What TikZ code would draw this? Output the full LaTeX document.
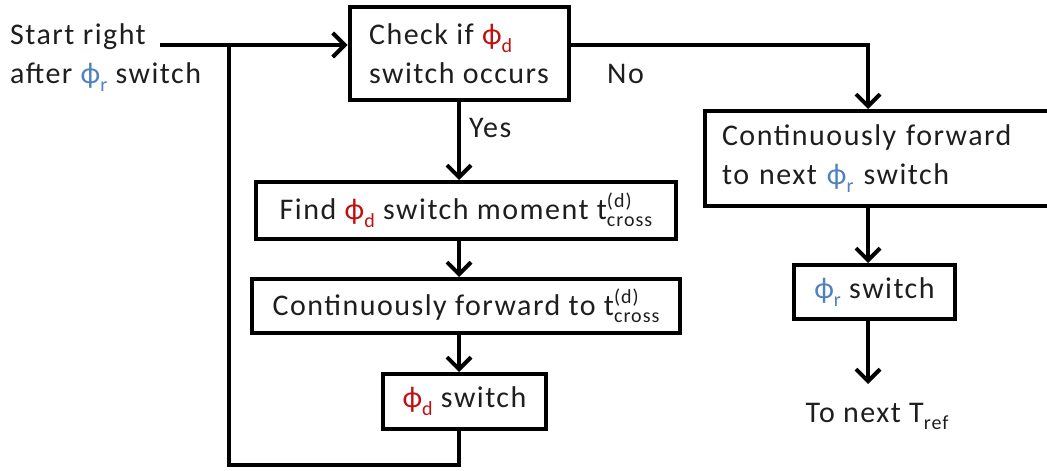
\documentclass[tikz,border=0pt]{standalone}
\usepackage{fontspec}
\setmainfont{Carlito}[LetterSpace=5]
\usetikzlibrary{arrows.meta}
\definecolor{phired}{RGB}{192,16,16}
\definecolor{phiblue}{RGB}{79,129,189}
\definecolor{ink}{RGB}{30,30,30}

% small text for sub- and superscripts
\newcommand\subtxt[1]{{\fontsize{20}{20}\selectfont #1}}
\newcommand\phid{{\color{phired}ϕ\raisebox{-8pt}{\subtxt{d}}}}
\newcommand\phir{{\color{phiblue}ϕ\raisebox{-8pt}{\subtxt{r}}}}
\newcommand\tcross{t\rlap{\raisebox{12pt}{\subtxt{(d)}}}\raisebox{-7pt}{\subtxt{cross}}}
\newcommand\Tref{T\raisebox{-7pt}{\subtxt{ref}}}

\begin{document}
\begin{tikzpicture}[x=1pt,y=-1pt,
  bodytext/.style={text=ink, font=\fontsize{30}{39}\selectfont},
  box/.style={bodytext, draw=black, line width=4pt, rectangle, inner sep=0pt},
  wire/.style={line width=4pt, draw=black},
  flow/.style={wire, -{Straight Barb[length=12pt,width=24pt]}}]
\useasboundingbox (0,0) rectangle (1047,471);

% boxes
\node[box, minimum width=219pt, minimum height=93pt, align=left] (check) at (459,53.5)
  {Check if \phid\\switch occurs};
\node[box, minimum width=420pt, minimum height=57pt] (find) at (466,210.5)
  {Find \phid{} switch moment \tcross};
\node[box, minimum width=428pt, minimum height=54pt] (fwd) at (466,306)
  {Continuously forward to \tcross};
\node[box, minimum width=163pt, minimum height=55pt] (dsw) at (464.5,401.5)
  {\phid{} switch};
\node[box, anchor=west, text width=313pt, inner xsep=17pt, minimum height=95pt, align=left] (cont) at (703,158.5)
  {Continuously forward\\to next \phir{} switch};
\node[box, minimum width=161pt, minimum height=54pt] (rsw) at (874.5,292)
  {\phir{} switch};

% free text
\node[bodytext, anchor=base west, inner sep=0pt, align=left] (start) at (10,83)
  {Start right\\after \phir{} switch};
\node[bodytext, anchor=base, inner sep=0pt] (next) at (877,422) {To next \Tref};
\node[bodytext, anchor=base west, inner sep=0pt] (yes) at (469,137) {Yes};
\node[bodytext, anchor=base west, inner sep=0pt] (no) at (607,83) {No};

% helper points
\coordinate (in) at (160,45);
\coordinate (col) at (459,0);
\coordinate (rcol) at (868,0);
\coordinate (looptop) at (229,45);
\coordinate (loopbot) at (229,465);
\coordinate (end) at (868,384);

% connectors
\draw[flow] (in) -- (check.west |- in);
\draw[wire] (looptop) -- (loopbot) -- (loopbot -| col) -- (dsw.south -| col);
\draw[flow] (check.south -| col) -- (find.north -| col);
\draw[flow] (find.south -| col) -- (fwd.north -| col);
\draw[flow] (fwd.south -| col) -- (dsw.north -| col);
\draw[flow] (check.east |- in) -| (cont.north -| rcol);
\draw[flow] (cont.south -| rcol) -- (rsw.north -| rcol);
\draw[flow] (rsw.south -| rcol) -- (end);
\end{tikzpicture}
\end{document}
